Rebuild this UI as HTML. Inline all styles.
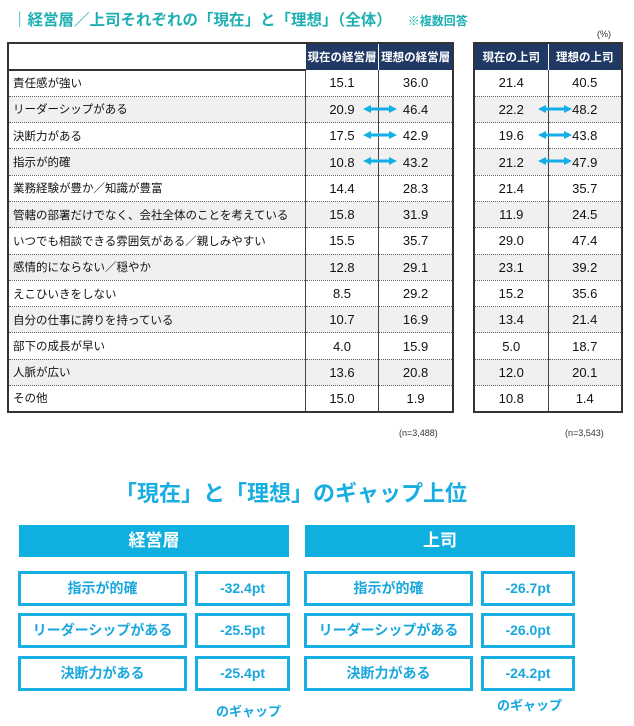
<!DOCTYPE html>
<html><head><meta charset="utf-8"><style>
*{margin:0;padding:0;box-sizing:border-box}
body{width:634px;height:726px;background:#fff;position:relative;font-family:"Liberation Sans","Noto Sans CJK JP",sans-serif;overflow:hidden}
.a{position:absolute}
table{position:absolute;border-collapse:collapse;border:2px solid #333;font-size:12px;color:#111}
td{height:26.3px;border-bottom:1px dotted #666;padding:0}
th{height:27px;background:#1f3864;color:#fff;font-size:11.5px;font-weight:bold;border-left:1px solid #fff}
td.n{text-align:center;font-size:13px;border-left:1.5px solid #444}
td.l{padding-left:4px;font-size:11.5px}
tr.g td{background:#f0f0f0}
.bar{position:absolute;background:#0fb0e0;color:#fff;font-weight:bold;font-size:17px;text-align:center;line-height:32px}
.box{position:absolute;border:3px solid #18b0e2;color:#18a8de;font-weight:bold;font-size:14px;text-align:center;line-height:28px}
</style></head><body>
<div class="a" style="left:12px;top:8px;color:#1db0b3;font-size:15.5px;font-weight:bold;white-space:nowrap">｜経営層／上司それぞれの「現在」と「理想」（全体）<span style="font-size:12px;margin-left:16px">※複数回答</span></div>
<div class="a" style="left:597px;top:29px;font-size:9px;color:#333">(%)</div>

<table style="left:7px;top:42px;width:447px">
<tr><td style="width:296px;border-bottom:2px solid #333;height:27px"></td><th style="width:73px">現在の経営層</th><th style="width:74px">理想の経営層</th></tr>
<tr><td class="l">責任感が強い</td><td class="n">15.1</td><td class="n">36.0</td></tr>
<tr class="g"><td class="l">リーダーシップがある</td><td class="n">20.9</td><td class="n">46.4</td></tr>
<tr><td class="l">決断力がある</td><td class="n">17.5</td><td class="n">42.9</td></tr>
<tr class="g"><td class="l">指示が的確</td><td class="n">10.8</td><td class="n">43.2</td></tr>
<tr><td class="l">業務経験が豊か／知識が豊富</td><td class="n">14.4</td><td class="n">28.3</td></tr>
<tr class="g"><td class="l">管轄の部署だけでなく、会社全体のことを考えている</td><td class="n">15.8</td><td class="n">31.9</td></tr>
<tr><td class="l">いつでも相談できる雰囲気がある／親しみやすい</td><td class="n">15.5</td><td class="n">35.7</td></tr>
<tr class="g"><td class="l">感情的にならない／穏やか</td><td class="n">12.8</td><td class="n">29.1</td></tr>
<tr><td class="l">えこひいきをしない</td><td class="n">8.5</td><td class="n">29.2</td></tr>
<tr class="g"><td class="l">自分の仕事に誇りを持っている</td><td class="n">10.7</td><td class="n">16.9</td></tr>
<tr><td class="l">部下の成長が早い</td><td class="n">4.0</td><td class="n">15.9</td></tr>
<tr class="g"><td class="l">人脈が広い</td><td class="n">13.6</td><td class="n">20.8</td></tr>
<tr><td class="l" style="border-bottom:none">その他</td><td class="n" style="border-bottom:none">15.0</td><td class="n" style="border-bottom:none">1.9</td></tr>
</table>

<table style="left:473px;top:42px;width:150px">
<tr><th style="width:75px;border-left:none">現在の上司</th><th style="width:75px">理想の上司</th></tr>
<tr><td class="n" style="border-left:none">21.4</td><td class="n">40.5</td></tr>
<tr class="g"><td class="n" style="border-left:none">22.2</td><td class="n">48.2</td></tr>
<tr><td class="n" style="border-left:none">19.6</td><td class="n">43.8</td></tr>
<tr class="g"><td class="n" style="border-left:none">21.2</td><td class="n">47.9</td></tr>
<tr><td class="n" style="border-left:none">21.4</td><td class="n">35.7</td></tr>
<tr class="g"><td class="n" style="border-left:none">11.9</td><td class="n">24.5</td></tr>
<tr><td class="n" style="border-left:none">29.0</td><td class="n">47.4</td></tr>
<tr class="g"><td class="n" style="border-left:none">23.1</td><td class="n">39.2</td></tr>
<tr><td class="n" style="border-left:none">15.2</td><td class="n">35.6</td></tr>
<tr class="g"><td class="n" style="border-left:none">13.4</td><td class="n">21.4</td></tr>
<tr><td class="n" style="border-left:none">5.0</td><td class="n">18.7</td></tr>
<tr class="g"><td class="n" style="border-left:none">12.0</td><td class="n">20.1</td></tr>
<tr><td class="n" style="border-left:none;border-bottom:none">10.8</td><td class="n" style="border-bottom:none">1.4</td></tr>
</table>

<svg class="a" style="left:0;top:0" width="634" height="420">
<defs><g id="ar"><polygon points="0,4 8,0 8,2.5 26,2.5 26,0 34,4 26,8 26,5.5 8,5.5 8,8" fill="#13aee6"/></g></defs>
<use href="#ar" x="363" y="105"/><use href="#ar" x="538" y="105"/>
<use href="#ar" x="363" y="131"/><use href="#ar" x="538" y="131"/>
<use href="#ar" x="363" y="157"/><use href="#ar" x="538" y="157"/>
</svg>

<div class="a" style="left:399px;top:428px;font-size:9px;color:#333">(n=3,488)</div>
<div class="a" style="left:565px;top:428px;font-size:9px;color:#333">(n=3,543)</div>

<div class="a" style="left:115px;top:476px;font-size:22px;font-weight:bold;color:#18aee2;white-space:nowrap">「現在」と「理想」のギャップ上位</div>

<div class="bar" style="left:19px;top:525px;width:270px;height:32px">経営層</div>
<div class="bar" style="left:305px;top:525px;width:270px;height:32px">上司</div>

<div class="box" style="left:18px;top:571px;width:169px;height:35px">指示が的確</div>
<div class="box" style="left:195px;top:571px;width:95px;height:35px">-32.4pt</div>
<div class="box" style="left:304px;top:571px;width:169px;height:35px">指示が的確</div>
<div class="box" style="left:481px;top:571px;width:94px;height:35px">-26.7pt</div>

<div class="box" style="left:18px;top:613px;width:169px;height:35px">リーダーシップがある</div>
<div class="box" style="left:195px;top:613px;width:95px;height:35px">-25.5pt</div>
<div class="box" style="left:304px;top:613px;width:169px;height:35px">リーダーシップがある</div>
<div class="box" style="left:481px;top:613px;width:94px;height:35px">-26.0pt</div>

<div class="box" style="left:18px;top:656px;width:169px;height:35px">決断力がある</div>
<div class="box" style="left:195px;top:656px;width:95px;height:35px">-25.4pt</div>
<div class="box" style="left:304px;top:656px;width:169px;height:35px">決断力がある</div>
<div class="box" style="left:481px;top:656px;width:94px;height:35px">-24.2pt</div>

<div class="a" style="left:216px;top:701px;font-size:13px;font-weight:bold;color:#18a8de">のギャップ</div>
<div class="a" style="left:497px;top:695px;font-size:13px;font-weight:bold;color:#18a8de">のギャップ</div>
</body></html>
